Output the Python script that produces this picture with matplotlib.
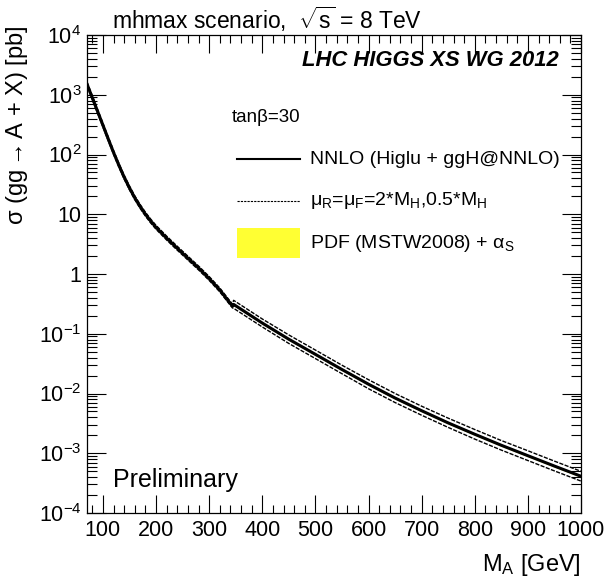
import math
import matplotlib
matplotlib.use("Agg")
from matplotlib import pyplot as plt
from matplotlib.ticker import FixedLocator, MultipleLocator, LogLocator, NullFormatter, FuncFormatter

plt.rcParams['font.family'] = ['Liberation Sans', 'DejaVu Sans']
plt.rcParams['mathtext.fontset'] = 'custom'
plt.rcParams['mathtext.rm'] = 'Liberation Sans'
plt.rcParams['mathtext.it'] = 'Liberation Sans:italic'

# values (M_A in GeV, sigma in pb)
mass = [70, 80, 90, 100, 110, 120, 130, 140, 150, 160, 170, 180, 190, 200,
        220, 240, 260, 280, 300, 320, 340, 344,
        346, 400, 450, 500, 550, 600, 650, 700, 750, 800, 850, 900, 950, 1000]
xsec = [1510, 891, 525, 309, 182, 108, 66.1, 41.7, 27.5, 18.8, 13.5, 10.0, 7.67, 6.03,
        3.98, 2.69, 1.84, 1.26, 0.84, 0.54, 0.32, 0.29,
        0.31, 0.151, 0.0809, 0.0452, 0.0252, 0.0143, 8.4e-3, 5.15e-3, 3.22e-3,
        2.08e-3, 1.36e-3, 9.1e-4, 6.1e-4, 4.12e-4]
# scale uncertainty (percent up / down)
scale_up = [8, 8, 8, 8, 8, 8, 8, 8, 8, 8, 8, 8, 8, 8,
            8, 8, 8, 8, 8, 8, 8, 8,
            17, 17, 18, 18, 18, 19, 19, 19, 20, 20, 20, 21, 21, 21]
scale_dn = [7, 7, 7, 7, 7, 7, 7, 7, 7, 7, 7, 7, 7, 7,
            7, 7, 7, 7, 7, 7, 7, 7,
            14, 14, 15, 15, 15, 16, 16, 16, 16, 17, 17, 17, 17, 17]
# pdf + alpha_s uncertainty (percent)
pdf_unc = [4] * len(mass)

W, H = 611, 587
fig = plt.figure(figsize=(W / 100, H / 100), dpi=100)
ax = fig.add_axes([87 / W, 1 - 513 / H, (581 - 87) / W, (513 - 35) / H])

pdf_hi = [x * (1 + p / 100) for x, p in zip(xsec, pdf_unc)]
pdf_lo = [x * (1 - p / 100) for x, p in zip(xsec, pdf_unc)]
sc_hi = [x * (1 + p / 100) for x, p in zip(xsec, scale_up)]
sc_lo = [x * (1 - p / 100) for x, p in zip(xsec, scale_dn)]

ax.fill_between(mass, pdf_lo, pdf_hi, color="#ffff33", lw=0)
ax.plot(mass, sc_hi, color="black", lw=1.0, ls=(0, (3, 1)))
ax.plot(mass, sc_lo, color="black", lw=1.0, ls=(0, (3, 1)))
ax.plot(mass, xsec, color="black", lw=2.2)

ax.set_yscale("log")
ax.set_xlim(70, 1000)
ax.set_ylim(1e-4, 1e4)

# ROOT-like ticks: inside, on all four sides
ax.xaxis.set_major_locator(FixedLocator([100, 200, 300, 400, 500, 600, 700, 800, 900, 1000]))
ax.xaxis.set_minor_locator(MultipleLocator(20))
ax.yaxis.set_major_locator(LogLocator(base=10, numticks=20))
ax.yaxis.set_minor_locator(LogLocator(base=10, subs=range(2, 10), numticks=20))
ax.yaxis.set_minor_formatter(NullFormatter())

def ylab(v, pos):
    e = int(round(math.log10(v)))
    if e == 0:
        return "1"
    if e == 1:
        return "10"
    return r"$10^{%d}$" % e

ax.yaxis.set_major_formatter(FuncFormatter(ylab))
ax.tick_params(which="both", direction="in", top=True, right=True, labelsize=15.5, colors="black")
ax.tick_params(axis="x", which="major", length=13, width=0.8, pad=5)
ax.tick_params(axis="x", which="minor", length=6, width=0.8)
ax.tick_params(axis="y", which="major", length=14, width=0.8, pad=4)
ax.tick_params(axis="y", which="minor", length=7, width=0.8)
for s in ax.spines.values():
    s.set_linewidth(0.9)

ax.set_xlabel(r"M$_{\rm A}$ [GeV]", fontsize=17, loc="right", labelpad=8)
ax.set_ylabel(r"σ (gg$\rightarrow$A + X) [pb]", fontsize=17, loc="top", labelpad=6)
ax.yaxis.label.set_position((0, 1.02))

fig.text(112 / W, 1 - 29 / H, r"mhmax scenario,  $\sqrt{\rm s}$ = 8 TeV", fontsize=16.5)
fig.text(559 / W, 1 - 61 / H, "LHC HIGGS XS WG 2012", fontsize=15.8,
         fontweight="bold", fontstyle="italic", ha="right", va="center")
fig.text(113 / W, 1 - 487 / H, "Preliminary", fontsize=18)

# legend drawn by hand, as in the ROOT original
fig.text(232 / W, 1 - 118 / H, "tanβ=30", fontsize=13.5, va="center")
ax_leg = fig.add_axes([0, 0, 1, 1], facecolor="none")
ax_leg.set_xlim(0, W)
ax_leg.set_ylim(H, 0)
ax_leg.axis("off")
ax_leg.plot([237, 300], [159, 159], color="black", lw=1.5)
ax_leg.plot([237, 300], [201, 201], color="black", lw=0.8, ls=(0, (2, 1)))
ax_leg.add_patch(plt.Rectangle((237, 228), 63, 30, color="#ffff33", lw=0))
fig.text(310 / W, 1 - 159 / H, "NNLO (Higlu + ggH@NNLO)", fontsize=14, va="center")
fig.text(310 / W, 1 - 201 / H, r"μ$_{\rm R}$=μ$_{\rm F}$=2*M$_{\rm H}$,0.5*M$_{\rm H}$",
         fontsize=14, va="center")
fig.text(310 / W, 1 - 243 / H, r"PDF (MSTW2008) + α$_{\rm S}$", fontsize=14, va="center")

plt.savefig("out.png", dpi=100)
